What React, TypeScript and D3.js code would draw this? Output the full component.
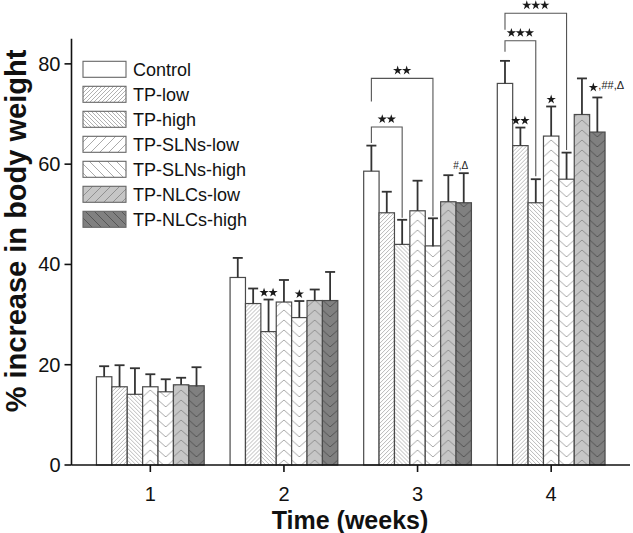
import React from 'react';
import * as d3 from 'd3';

const weeks = [1, 2, 3, 4];
const tickLabelsX = ['1', '2', '3', '4'];
const tickValuesY = [0, 20, 40, 60, 80];
const seriesNames = ['Control', 'TP-low', 'TP-high', 'TP-SLNs-low', 'TP-SLNs-high', 'TP-NLCs-low', 'TP-NLCs-high'];

const controlMean = [17.6, 37.4, 58.6, 76.1];
const controlSd = [2.1, 3.9, 5.1, 4.5];
const tpLowMean = [15.6, 32.2, 50.3, 63.7];
const tpLowSd = [4.3, 3.0, 4.2, 3.6];
const tpHighMean = [14.1, 26.6, 44.0, 52.3];
const tpHighSd = [5.2, 6.4, 4.9, 4.7];
const slnLowMean = [15.6, 32.5, 50.7, 65.6];
const slnLowSd = [2.5, 4.4, 6.0, 5.9];
const slnHighMean = [14.6, 29.4, 43.7, 57.0];
const slnHighSd = [2.5, 3.3, 5.5, 5.3];
const nlcLowMean = [16.0, 32.8, 52.5, 69.9];
const nlcLowSd = [1.4, 2.2, 5.3, 7.2];
const nlcHighMean = [15.8, 32.8, 52.3, 66.4];
const nlcHighSd = [3.7, 5.7, 5.9, 6.9];

const means = [controlMean, tpLowMean, tpHighMean, slnLowMean, slnHighMean, nlcLowMean, nlcHighMean];
const sds = [controlSd, tpLowSd, tpHighSd, slnLowSd, slnHighSd, nlcLowSd, nlcHighSd];

// significance brackets: week, from series, to series, top value, left leg end, right leg end, star count
const brackets = [
  { week: 3, from: 0, to: 2, top: 67.4, leftEnd: 64.2, rightEnd: 49.3, stars: 2 },
  { week: 3, from: 0, to: 4, top: 77.1, leftEnd: 72.5, rightEnd: 49.6, stars: 2 },
  { week: 4, from: 0, to: 2, top: 84.6, leftEnd: 82.4, rightEnd: 57.6, stars: 3 },
  { week: 4, from: 0, to: 4, top: 90.1, leftEnd: 86.8, rightEnd: 62.8, stars: 3 },
];

// star annotations above error bars
const starMarks = [
  { week: 2, series: 2, stars: 2 },
  { week: 2, series: 4, stars: 1 },
  { week: 4, series: 1, stars: 2 },
  { week: 4, series: 3, stars: 1 },
];
const textMarks = [
  { week: 3, series: 6, star: false, text: '#,Δ' },
  { week: 4, series: 6, star: true, text: ',##,Δ' },
];

const W = 633;
const H = 533;
const x = d3.scaleLinear().domain([0.41, 4.59]).range([71.5, 630]);
const y = d3.scaleLinear().domain([0, 85]).range([465, 38.8]);
const barUnits = 0.1152;
const bw = x(1 + barUnits) - x(1);

const fills = ['#ffffff', '#ffffff', '#ffffff', '#ffffff', '#ffffff', '#c6c6c6', '#808080'];
const lineCols = ['none', '#a8a8a8', '#a8a8a8', '#a0a0a0', '#a0a0a0', '#8a8a8a', '#505050'];
const font = 'Liberation Sans, Arial, Helvetica, sans-serif';

const barX = (w: number, s: number) => x(w + (s - 3.5) * barUnits);
const barC = (w: number, s: number) => x(w + (s - 3) * barUnits);

const starPath = d3.symbol(d3.symbolStar, 27)() as string;

function Stars({ cx, cy, n }: { cx: number; cy: number; n: number }) {
  const gap = 9;
  return (
    <g>
      {d3.range(n).map((i) => (
        <path key={i} d={starPath} transform={`translate(${cx + (i - (n - 1) / 2) * gap},${cy})`} fill="#1a1a1a" />
      ))}
    </g>
  );
}

function barPattern(id: string, s: number, x0: number) {
  const col = lineCols[s];
  if (s === 1 || s === 2) {
    const d = s === 1 ? 'M-1,1 l2,-2 M0,4 l4,-4 M3,5 l2,-2' : 'M-1,3 l2,2 M0,0 l4,4 M3,-1 l2,2';
    return (
      <pattern key={id} id={id} patternUnits="userSpaceOnUse" width={4} height={4} x={x0}>
        <rect width={4} height={4} fill={fills[s]} />
        <path d={d} stroke={col} strokeWidth={0.8} />
      </pattern>
    );
  }
  const ph = 10;
  const rise = bw / 2 * 0.9;
  const up = s === 3 || s === 5;
  const parts = d3.range(-1, 3).map((k) =>
    up
      ? `M0,${ph * k + rise} L${bw / 2},${ph * k} L${bw},${ph * k + rise}`
      : `M0,${ph * k} L${bw / 2},${ph * k + rise} L${bw},${ph * k}`
  );
  return (
    <pattern key={id} id={id} patternUnits="userSpaceOnUse" width={bw} height={ph} x={x0}>
      <rect width={bw} height={ph} fill={fills[s]} />
      <path d={parts.join(' ')} stroke={col} strokeWidth={0.9} fill="none" />
    </pattern>
  );
}

function legendPattern(id: string, s: number) {
  const col = lineCols[s];
  const fine = s === 1 || s === 2;
  const p = fine ? 4 : 9;
  const slash = s % 2 === 1;
  const d = slash
    ? `M-1,1 l2,-2 M0,${p} l${p},-${p} M${p - 1},${p + 1} l2,-2`
    : `M-1,${p - 1} l2,2 M0,0 l${p},${p} M${p - 1},-1 l2,2`;
  return (
    <pattern key={id} id={id} patternUnits="userSpaceOnUse" width={p} height={p}>
      <rect width={p} height={p} fill={fills[s]} />
      <path d={d} stroke={col} strokeWidth={0.9} />
    </pattern>
  );
}

export default function App() {
  const defs: React.ReactNode[] = [];
  weeks.forEach((w) => seriesNames.forEach((_, s) => {
    if (s > 0) defs.push(barPattern(`bp-${w}-${s}`, s, barX(w, s)));
  }));
  seriesNames.forEach((_, s) => {
    if (s > 0) defs.push(legendPattern(`lp-${s}`, s));
  });

  return (
    <svg width={W} height={H} style={{ position: 'absolute', left: 0, top: 0, background: '#fff' }} fontFamily={font}>
      <defs>{defs}</defs>
      <rect width={W} height={H} fill="#fff" />

      {/* bars */}
      {weeks.map((w, wi) =>
        seriesNames.map((_, s) => {
          const v = means[s][wi];
          return (
            <rect
              key={`b-${w}-${s}`}
              x={barX(w, s)}
              y={y(v)}
              width={bw}
              height={y(0) - y(v)}
              fill={s === 0 ? '#fff' : `url(#bp-${w}-${s})`}
              stroke="#4a4a4a"
              strokeWidth={1.2}
            />
          );
        })
      )}

      {/* error bars */}
      {weeks.map((w, wi) =>
        seriesNames.map((_, s) => {
          const v = means[s][wi];
          const t = v + sds[s][wi];
          const cx = barC(w, s);
          return (
            <g key={`e-${w}-${s}`} stroke="#333" strokeWidth={1.8}>
              <line x1={cx} x2={cx} y1={y(v)} y2={y(t)} />
              <line x1={cx - 5} x2={cx + 5} y1={y(t)} y2={y(t)} />
            </g>
          );
        })
      )}

      {/* brackets */}
      {brackets.map((b, i) => {
        const x1 = barC(b.week, b.from);
        const x2 = barC(b.week, b.to);
        return (
          <g key={`br-${i}`}>
            <path
              d={`M${x1},${y(b.leftEnd)} L${x1},${y(b.top)} L${x2},${y(b.top)} L${x2},${y(b.rightEnd)}`}
              fill="none"
              stroke="#555"
              strokeWidth={1.1}
            />
            <Stars cx={(x1 + x2) / 2} cy={y(b.top) - 8} n={b.stars} />
          </g>
        );
      })}

      {starMarks.map((m, i) => {
        const wi = weeks.indexOf(m.week);
        const t = means[m.series][wi] + sds[m.series][wi];
        return <Stars key={`sm-${i}`} cx={barC(m.week, m.series)} cy={y(t) - 7} n={m.stars} />;
      })}

      {textMarks.map((m, i) => {
        const wi = weeks.indexOf(m.week);
        const t = means[m.series][wi] + sds[m.series][wi];
        const cx = barC(m.week, m.series);
        if (m.star) {
          return (
            <g key={`tm-${i}`}>
              <Stars cx={cx - 4} cy={y(t) - 10} n={1} />
              <text x={cx + 1} y={y(t) - 8} fontSize={11} fill="#222">{m.text}</text>
            </g>
          );
        }
        return (
          <text key={`tm-${i}`} x={cx - 3} y={y(t) - 4} fontSize={10} textAnchor="middle" fill="#222">{m.text}</text>
        );
      })}

      {/* axes */}
      <line x1={x.range()[0]} x2={x.range()[0]} y1={y(0)} y2={y(85)} stroke="#111" strokeWidth={1.6} />
      <line x1={x.range()[0]} x2={x.range()[1]} y1={y(0)} y2={y(0)} stroke="#111" strokeWidth={1.6} />
      {tickValuesY.map((t) => (
        <g key={`yt-${t}`}>
          <line x1={x.range()[0] - 7} x2={x.range()[0]} y1={y(t)} y2={y(t)} stroke="#111" strokeWidth={1.6} />
          <text x={x.range()[0] - 11} y={y(t)} dy="0.35em" textAnchor="end" fontSize={20} fill="#111">{t}</text>
        </g>
      ))}
      {weeks.map((w, i) => (
        <g key={`xt-${w}`}>
          <line x1={x(w)} x2={x(w)} y1={y(0)} y2={y(0) + 7} stroke="#111" strokeWidth={1.6} />
          <text x={x(w)} y={y(0) + 36} textAnchor="middle" fontSize={20} fill="#111">{tickLabelsX[i]}</text>
        </g>
      ))}
      <text x={350} y={529} textAnchor="middle" fontSize={25} fontWeight="bold" fill="#111">Time (weeks)</text>
      <text transform={`translate(26,231) rotate(-90)`} textAnchor="middle" fontSize={29} fontWeight="bold" fill="#111">% increase in body weight</text>

      {/* legend */}
      {seriesNames.map((n, s) => {
        const cy = 69.3 + s * 25;
        return (
          <g key={`lg-${s}`}>
            <rect x={83} y={cy - 8} width={43} height={16} fill={s === 0 ? '#fff' : `url(#lp-${s})`} stroke="#666" strokeWidth={1.1} />
            <text x={133} y={cy} dy="0.35em" fontSize={18} fill="#111">{n}</text>
          </g>
        );
      })}
    </svg>
  );
}
